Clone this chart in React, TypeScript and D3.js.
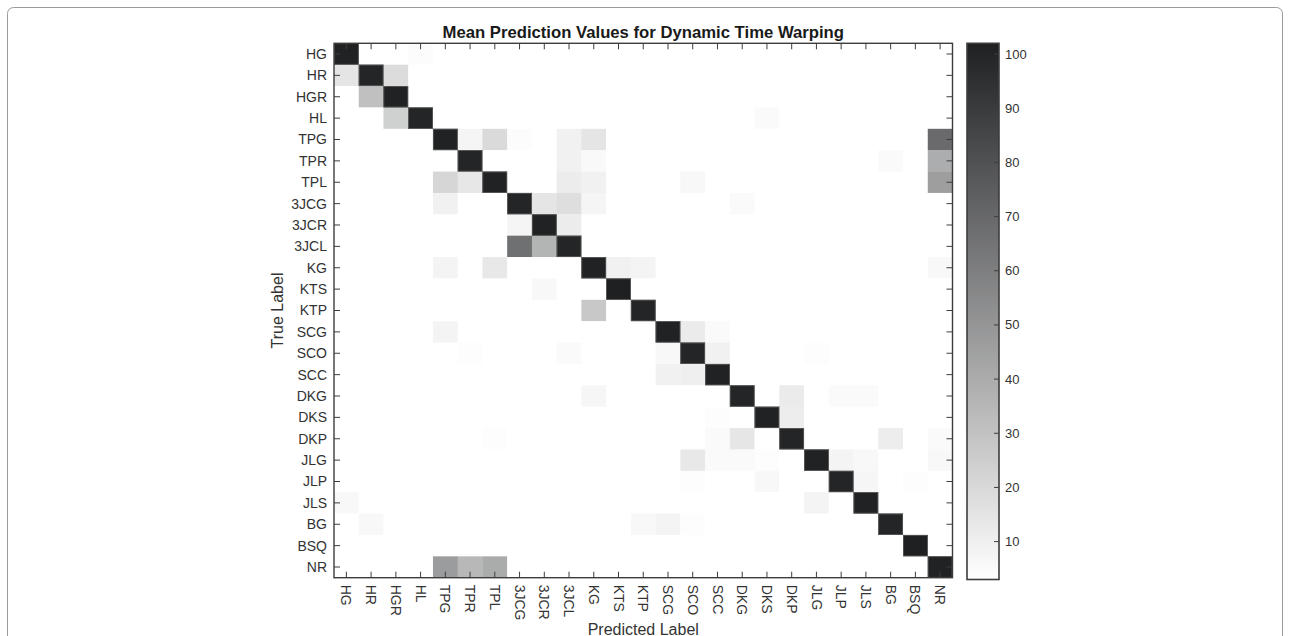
import React, { useEffect, useRef } from 'react';
import * as d3 from 'd3';

// class labels (rows = true label, columns = predicted label)
const labels = ['HG', 'HR', 'HGR', 'HL', 'TPG', 'TPR', 'TPL', '3JCG', '3JCR', '3JCL', 'KG', 'KTS', 'KTP',
    'SCG', 'SCO', 'SCC', 'DKG', 'DKS', 'DKP', 'JLG', 'JLP', 'JLS', 'BG', 'BSQ', 'NR'];

// diagonal values, in label order
const diagonal = [101, 100, 101, 100, 101, 100, 101, 100, 101, 100, 101, 102, 100,
    101, 100, 101, 100, 101, 100, 101, 100, 101, 100, 102, 101];

// off-diagonal cells: [true label, predicted label, value]
const offDiagonal: [string, string, number][] = [
    ['HG', 'HL', 4.5],
    ['HR', 'HG', 14.5], ['HR', 'HGR', 18.5],
    ['HGR', 'HR', 31],
    ['HL', 'HGR', 24], ['HL', 'DKS', 5],
    ['TPG', 'TPR', 7.5], ['TPG', 'TPL', 19.5], ['TPG', '3JCG', 4.5], ['TPG', '3JCL', 9], ['TPG', 'KG', 14.5], ['TPG', 'NR', 69],
    ['TPR', '3JCL', 9], ['TPR', 'KG', 5.5], ['TPR', 'BG', 5], ['TPR', 'NR', 39.5],
    ['TPL', 'TPG', 21], ['TPL', 'TPR', 13.5], ['TPL', '3JCL', 11.5], ['TPL', 'KG', 9], ['TPL', 'SCO', 6], ['TPL', 'NR', 46],
    ['3JCG', 'TPG', 9], ['3JCG', '3JCR', 14.5], ['3JCG', '3JCL', 17.5], ['3JCG', 'KG', 7.5], ['3JCG', 'DKG', 5],
    ['3JCR', '3JCG', 7.5], ['3JCR', '3JCL', 11.5],
    ['3JCL', '3JCG', 66.5], ['3JCL', '3JCR', 36.5],
    ['KG', 'TPG', 8], ['KG', 'TPL', 13], ['KG', 'KTS', 9], ['KG', 'KTP', 8], ['KG', 'NR', 6],
    ['KTS', '3JCR', 6],
    ['KTP', 'KG', 27.5],
    ['SCG', 'TPG', 8], ['SCG', 'SCO', 12], ['SCG', 'SCC', 5],
    ['SCO', 'TPR', 4], ['SCO', '3JCL', 5], ['SCO', 'SCG', 6], ['SCO', 'SCC', 9], ['SCO', 'JLG', 4],
    ['SCC', 'SCG', 9], ['SCC', 'SCO', 10],
    ['DKG', 'KG', 7], ['DKG', 'DKP', 12], ['DKG', 'JLP', 5], ['DKG', 'JLS', 5],
    ['DKS', 'SCC', 4], ['DKS', 'DKP', 11],
    ['DKP', 'TPL', 4], ['DKP', 'SCC', 5], ['DKP', 'DKG', 14], ['DKP', 'BG', 11], ['DKP', 'NR', 5],
    ['JLG', 'SCO', 13], ['JLG', 'SCC', 5], ['JLG', 'DKG', 5], ['JLG', 'DKS', 4], ['JLG', 'JLP', 8], ['JLG', 'JLS', 6], ['JLG', 'NR', 6],
    ['JLP', 'SCO', 4], ['JLP', 'DKS', 6], ['JLP', 'JLS', 7], ['JLP', 'BSQ', 4],
    ['JLS', 'HG', 6], ['JLS', 'JLG', 8],
    ['BG', 'HR', 6], ['BG', 'KTP', 6], ['BG', 'SCG', 8], ['BG', 'SCO', 4],
    ['NR', 'TPG', 47], ['NR', 'TPR', 34.5], ['NR', 'TPL', 40.5],
];

const colorTicks = [10, 20, 30, 40, 50, 60, 70, 80, 90, 100];
const colorDomain = [3, 102];

const App = () => {
    const ref = useRef<SVGSVGElement>(null);

    useEffect(() => {
        const svg = d3.select(ref.current);
        svg.selectAll('*').remove();

        const width = 1290;
        const height = 636;
        const plot = { left: 334, right: 952.5, top: 43.3, bottom: 577.7 };
        const bar = { left: 967, right: 999, top: 43.3, bottom: 579.5 };
        const axisColor = '#3d3d3d';
        const textColor = '#333';
        const font = '"Liberation Sans", Arial, Helvetica, sans-serif';
        const tick = 6;

        svg.attr('width', width).attr('height', height);

        const cells = labels.flatMap((r, i) => labels.map((c, j) => ({ r, c, diag: i === j, v: i === j ? diagonal[i] : 0 })));
        offDiagonal.forEach(([r, c, v]) => {
            const cell = cells.find(d => d.r === r && d.c === c);
            if (cell) cell.v = v;
        });

        const x = d3.scaleBand().domain(labels).range([plot.left, plot.right]);
        const y = d3.scaleBand().domain(labels).range([plot.top, plot.bottom]);
        const color = d3.scaleLinear<string>().domain(colorDomain).range(['#ffffff', '#1f2022']).clamp(true);

        // figure frame
        svg.append('rect')
            .attr('x', 7.5).attr('y', 7.5)
            .attr('width', 1275).attr('height', 720)
            .attr('rx', 6)
            .attr('fill', 'none')
            .attr('stroke', '#9a9a9a');

        svg.append('g')
            .selectAll('rect')
            .data(cells)
            .join('rect')
                .attr('x', d => x(d.c)!)
                .attr('y', d => y(d.r)!)
                .attr('width', x.bandwidth() + 0.3)
                .attr('height', y.bandwidth() + 0.3)
                .attr('fill', d => color(d.v));

        // soft edge seen round the diagonal blocks
        svg.append('g')
            .selectAll('rect')
            .data(cells.filter(d => d.diag))
            .join('rect')
                .attr('x', d => x(d.c)! + 0.4)
                .attr('y', d => y(d.r)! + 0.4)
                .attr('width', x.bandwidth() - 0.8)
                .attr('height', y.bandwidth() - 0.8)
                .attr('fill', 'none')
                .attr('stroke', '#5c5c5c')
                .attr('stroke-width', 0.8);

        // box + inward ticks
        const axes = svg.append('g').attr('stroke', axisColor).attr('fill', 'none');
        axes.append('rect')
            .attr('x', plot.left).attr('y', plot.top)
            .attr('width', plot.right - plot.left).attr('height', plot.bottom - plot.top)
            .attr('stroke-width', 1.4);
        labels.forEach(l => {
            const cx = x(l)! + x.bandwidth() / 2;
            const cy = y(l)! + y.bandwidth() / 2;
            axes.append('line').attr('x1', cx).attr('x2', cx).attr('y1', plot.bottom).attr('y2', plot.bottom - tick);
            axes.append('line').attr('x1', cx).attr('x2', cx).attr('y1', plot.top).attr('y2', plot.top + tick);
            axes.append('line').attr('y1', cy).attr('y2', cy).attr('x1', plot.left).attr('x2', plot.left + tick);
            axes.append('line').attr('y1', cy).attr('y2', cy).attr('x1', plot.right).attr('x2', plot.right - tick);
        });

        const text = svg.append('g').attr('font-family', font).attr('fill', textColor);

        text.selectAll('.ylab')
            .data(labels)
            .join('text')
                .attr('x', plot.left - 7)
                .attr('y', d => y(d)! + y.bandwidth() / 2)
                .attr('dy', '0.35em')
                .attr('text-anchor', 'end')
                .attr('font-size', 14)
                .text(d => d);

        text.selectAll('.xlab')
            .data(labels)
            .join('text')
                .attr('transform', d => `translate(${x(d)! + x.bandwidth() / 2},${plot.bottom + 7}) rotate(90)`)
                .attr('dy', '0.35em')
                .attr('text-anchor', 'start')
                .attr('font-size', 14)
                .text(d => d);

        text.append('text')
            .attr('x', (plot.left + plot.right) / 2)
            .attr('y', 38.3)
            .attr('text-anchor', 'middle')
            .attr('font-size', 16.7)
            .attr('font-weight', 'bold')
            .attr('fill', '#1a1a1a')
            .text('Mean Prediction Values for Dynamic Time Warping');

        text.append('text')
            .attr('x', (plot.left + plot.right) / 2)
            .attr('y', 634.5)
            .attr('text-anchor', 'middle')
            .attr('font-size', 16)
            .text('Predicted Label');

        text.append('text')
            .attr('transform', `translate(283,${(plot.top + plot.bottom) / 2}) rotate(-90)`)
            .attr('text-anchor', 'middle')
            .attr('font-size', 16)
            .text('True Label');

        // colorbar
        const cy = d3.scaleLinear().domain(colorDomain).range([bar.bottom, bar.top]);
        const grad = svg.append('defs').append('linearGradient')
            .attr('id', 'cbar').attr('x1', 0).attr('x2', 0).attr('y1', 1).attr('y2', 0);
        grad.append('stop').attr('offset', '0%').attr('stop-color', color(colorDomain[0]));
        grad.append('stop').attr('offset', '100%').attr('stop-color', color(colorDomain[1]));

        svg.append('rect')
            .attr('x', bar.left).attr('y', bar.top)
            .attr('width', bar.right - bar.left).attr('height', bar.bottom - bar.top)
            .attr('fill', 'url(#cbar)')
            .attr('stroke', axisColor)
            .attr('stroke-width', 1.6);

        svg.append('g')
            .attr('stroke', axisColor)
            .selectAll('line')
            .data(colorTicks)
            .join('line')
                .attr('x1', bar.right).attr('x2', bar.right - 5)
                .attr('y1', d => cy(d)).attr('y2', d => cy(d));

        text.selectAll('.clab')
            .data(colorTicks)
            .join('text')
                .attr('x', bar.right + 6)
                .attr('y', d => cy(d))
                .attr('dy', '0.35em')
                .attr('font-size', 13)
                .text(d => d);
    }, []);

    return (
        <svg ref={ref} style={{ position: 'absolute', left: 0, top: 0 }} />
    );
};

export default App;
